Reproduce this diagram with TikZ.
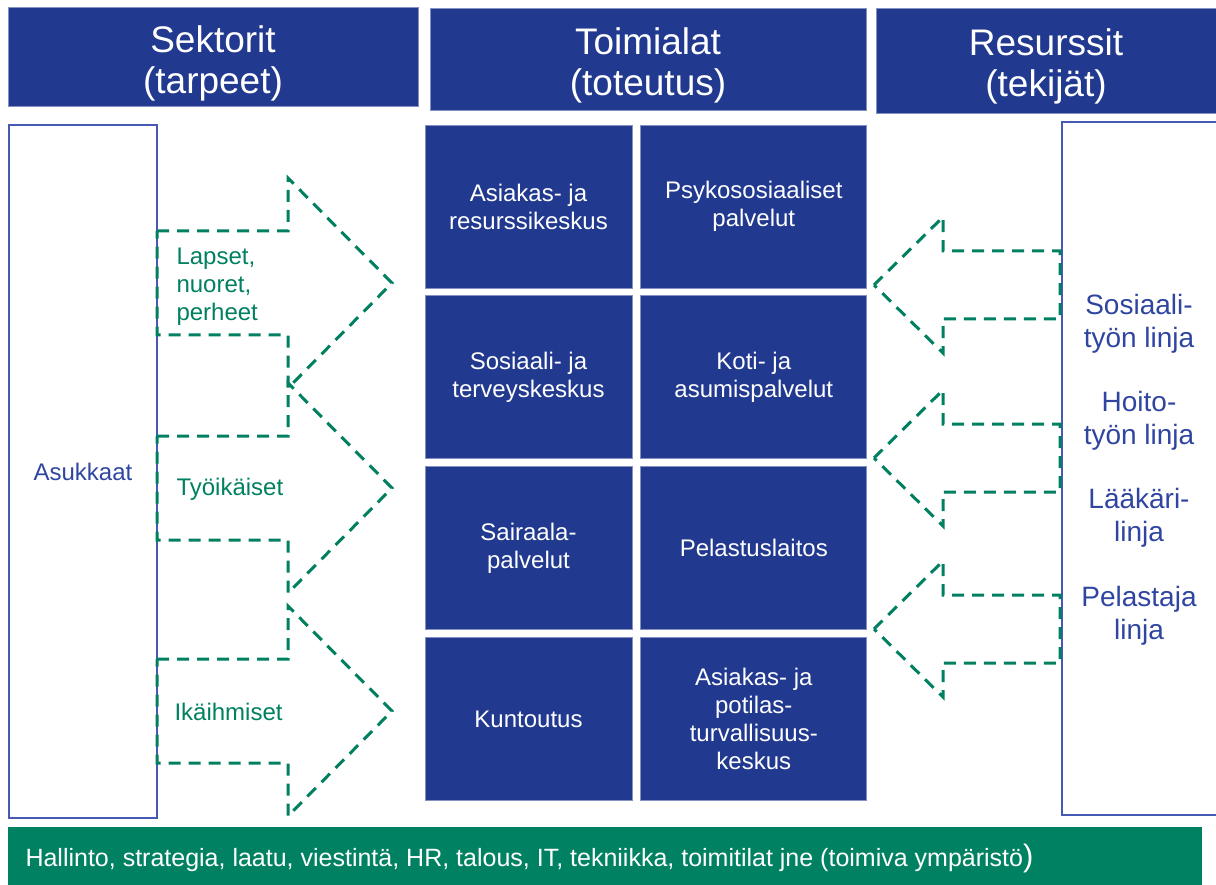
\documentclass[tikz,border=0pt]{standalone}
\usepackage{fontspec}
\setmainfont{Liberation Sans}
\usetikzlibrary{positioning}

\begin{document}
\begin{tikzpicture}[x=1pt,y=-1pt,
	hdr/.style={fill=deepblue,draw=deepblue!55!white,line width=0.8pt,inner sep=0pt},
	hdrtext/.style={text=white,align=center,font=\fontsize{37}{41}\selectfont},
	unit/.style={fill=deepblue,draw=deepblue!55!white,line width=0.8pt,text=white,align=center,
		minimum height=163pt,inner sep=0pt,font=\fontsize{24}{28}\selectfont},
	sidebox/.style={draw=rim,line width=1.2pt,minimum height=693pt,inner sep=0pt},
	group/.style={text=leaf,align=left,anchor=west,font=\fontsize{24}{28}\selectfont},
	staff/.style={text=inkblue,align=center,font=\fontsize{28}{33}\selectfont},
	flow/.style={draw=leaf,line width=3pt,dash pattern=on 12pt off 8pt}]
	
	\definecolor{deepblue}{RGB}{33,57,143}
	\definecolor{inkblue}{RGB}{47,69,160}
	\definecolor{rim}{RGB}{70,90,180}
	\definecolor{leaf}{RGB}{0,128,96}
	\definecolor{barcolor}{RGB}{0,130,98}
	
	\useasboundingbox (0,0) rectangle (1216,885);
	
	\node[hdr,minimum width=410pt,minimum height=99pt] (sek) at (213,56.5) {};
	\node[hdr,minimum width=436pt,minimum height=102pt] (toi) at (648,59) {};
	\node[hdr,minimum width=346pt,minimum height=105pt] (res) at (1049,60.5) {};
	\node[hdrtext] (sektxt) at (213,63) {Sektorit\\(tarpeet)};
	\node[hdrtext] (toitxt) at (648,65) {Toimialat\\(toteutus)};
	\node[hdrtext] (restxt) at (1046,66) {Resurssit\\(tekijät)};
	
	\node[unit,minimum width=207pt] (asres) at (528.5,206.5) {Asiakas- ja\\resurssikeskus};
	\node[unit,minimum width=226pt,right=8pt of asres] (psyk) {Psykososiaaliset\\palvelut};
	\node[unit,minimum width=207pt,below=7pt of asres] (sote) {Sosiaali- ja\\terveyskeskus};
	\node[unit,minimum width=226pt,right=8pt of sote] (koti) {Koti- ja\\asumispalvelut};
	\node[unit,minimum width=207pt,below=7pt of sote] (sair) {Sairaala-\\palvelut};
	\node[unit,minimum width=226pt,right=8pt of sair] (pelas) {Pelastuslaitos};
	\node[unit,minimum width=207pt,below=7pt of sair] (kunt) {Kuntoutus};
	\node[unit,minimum width=226pt,right=8pt of kunt] (turva) {Asiakas- ja\\potilas-\\turvallisuus-\\keskus};
	
	\node[sidebox,minimum width=148pt,text=inkblue,font=\fontsize{24}{28}\selectfont] (asuk) at (83,471.5) {Asukkaat};
	\node[sidebox,minimum width=160pt] (tekij) at (1142,468.5) {};
	
	% tarpeet -> toimialat
	\foreach \c in {283,488,711}
		\draw[flow] (157,\c-52) -- (288,\c-52) -- (288,\c-105) -- (392,\c)
			-- (288,\c+105) -- (288,\c+52) -- (157,\c+52) -- cycle;
	% tekijat -> toimialat
	\foreach \c in {285,458,629}
		\draw[flow] (874,\c) -- (943,\c-68) -- (943,\c-34) -- (1060,\c-34)
			-- (1060,\c+34) -- (943,\c+34) -- (943,\c+68) -- cycle;
	
	\node[group] (lapset) at (173,287) {Lapset,\\nuoret,\\perheet};
	\node[group] (tyoik) at (173,489) {Työikäiset};
	\node[group] (ikaih) at (171,712) {Ikäihmiset};
	
	\node[staff] (sos) at (1139,324) {Sosiaali-\\työn linja};
	\node[staff] (hoito) at (1139,421) {Hoito-\\työn linja};
	\node[staff] (laak) at (1139,518) {Lääkäri-\\linja};
	\node[staff] (pel) at (1139,616) {Pelastaja\\linja};
	
	\node[fill=barcolor,minimum width=1194pt,minimum height=58pt,inner sep=0pt] (bar) at (605,856) {};
	\node[anchor=west,text=white,font=\fontsize{25}{28}\selectfont] (bartxt) at (22,858)
		{Hallinto, strategia, laatu, viestintä, HR, talous, IT, tekniikka, toimitilat jne (toimiva ympäristö{\fontsize{31}{31}\selectfont)}};
\end{tikzpicture}
\end{document}
